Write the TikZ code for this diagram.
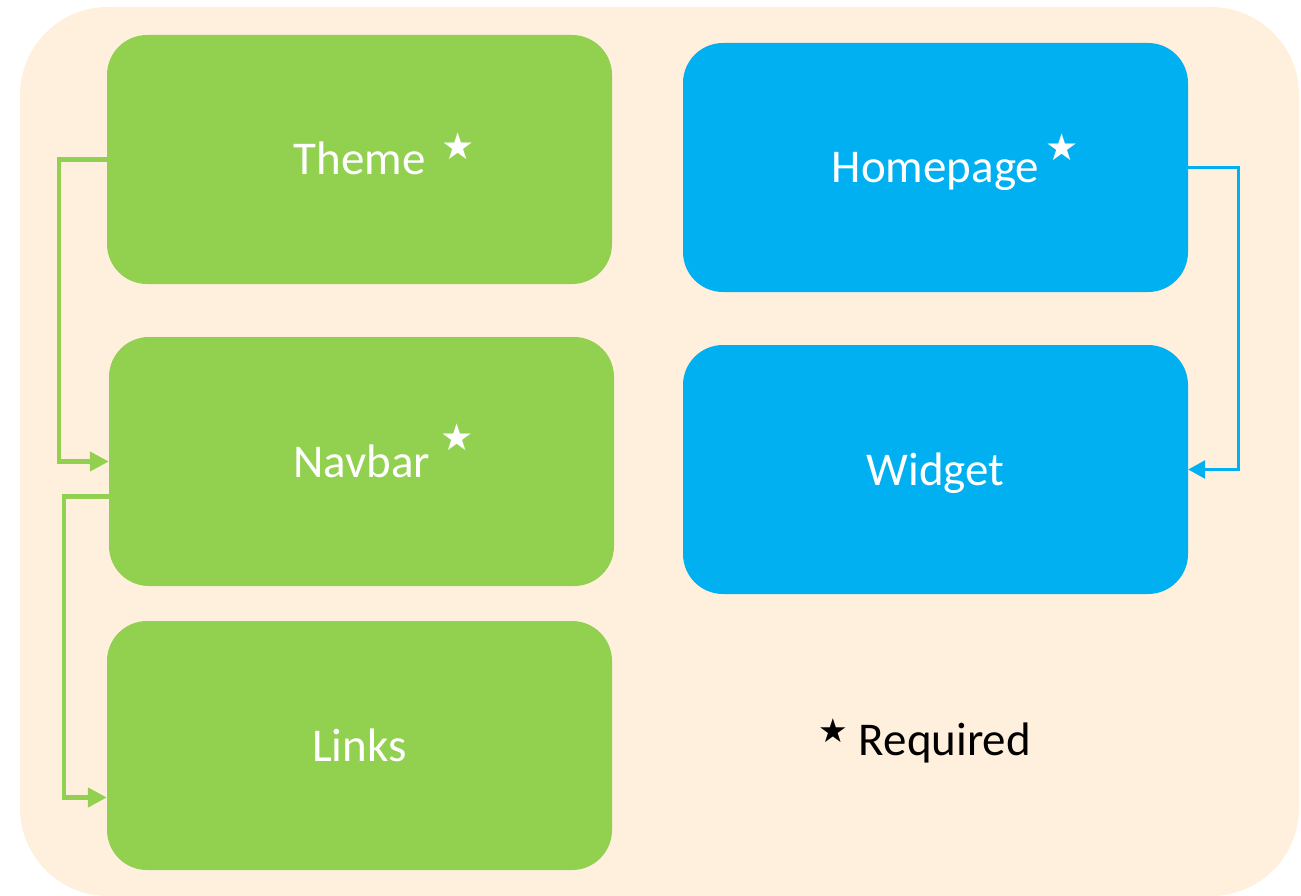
\documentclass[tikz,border=0pt]{standalone}
\usepackage{fontspec}
\setmainfont{Carlito}
\newfontfamily\starfont{DejaVu Sans}
\usepackage{tikz}
\usetikzlibrary{arrows.meta}
\definecolor{boxgreen}{HTML}{92D050}
\definecolor{boxblue}{HTML}{00B0F0}
\definecolor{peach}{HTML}{FFF0DE}
\tikzset{
  card/.style={rounded corners=40pt, minimum width=505pt, minimum height=249pt,
    text=white, font=\fontsize{47}{56}\selectfont, text height=31pt, text depth=0pt},
  greencard/.style={card, fill=boxgreen},
  bluecard/.style={card, fill=boxblue},
  starmark/.style={font=\starfont\fontsize{37}{40}\selectfont, inner sep=0pt},
  greenline/.style={draw=boxgreen, line width=4.5pt, -{Triangle[length=19pt,width=19pt]}},
  blueline/.style={draw=boxblue, line width=3pt, -{Triangle[length=17pt,width=18pt]}}
}

\begin{document}
\begin{tikzpicture}[x=1pt,y=-1pt]
        \useasboundingbox (0,0) rectangle (1301,896);
        \fill[peach, rounded corners=88pt] (20,7) rectangle (1299,896);

        % left column
        \node[greencard] (theme) at (359.5,159.5) {Theme};
        \node[greencard] (navbar) at (361.5,461.5) {Navbar};
        \node[greencard] (links) at (359.5,745.5) {Links};
        % right column
        \node[bluecard] (homepage) at (935.5,167.5) {Homepage};
        \node[bluecard] (widget) at (935.5,469.5) {Widget};

        \node[starmark, white] (themestar) at (458,146) {★};
        \node[starmark, white] (navbarstar) at (457,437) {★};
        \node[starmark, white] (homestar) at (1062,147) {★};

        % legend
        \node[starmark, black, font=\starfont\fontsize{33}{36}\selectfont] (legendstar) at (833,731) {★};
        \node[font=\fontsize{47}{56}\selectfont, text height=26pt, text depth=0pt] (required) at (945,742) {Required};

        \draw[greenline] (theme.west) -- ++(-48,0) |- (navbar.west);
        \draw[greenline] ([yshift=-35pt]navbar.west) -- ++(-45,0) |- ([yshift=-52pt]links.west);
        \draw[blueline] (homepage.east) -- ++(50,0) |- (widget.east);
    \end{tikzpicture}
\end{document}
